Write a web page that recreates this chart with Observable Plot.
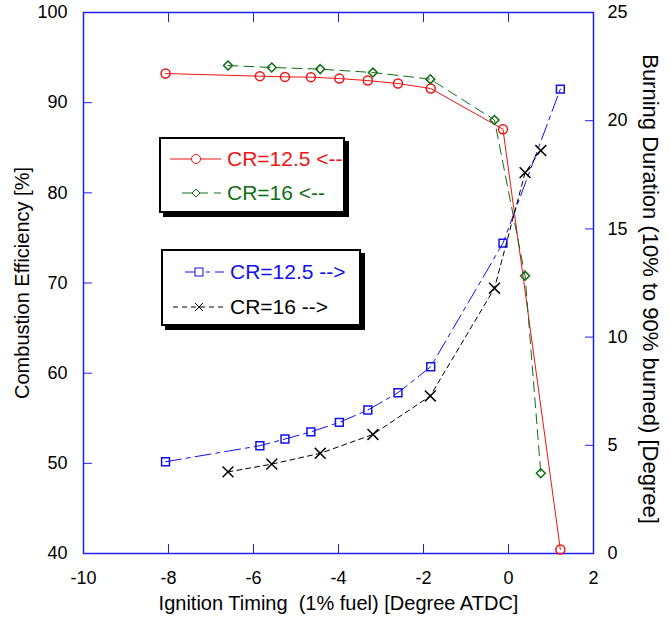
<!DOCTYPE html>
<html>
<head>
<meta charset="utf-8">
<script src="https://cdn.jsdelivr.net/npm/d3@7"></script>
<script src="https://cdn.jsdelivr.net/npm/@observablehq/plot@0.6"></script>
<style>
  html, body { margin: 0; padding: 0; background: #fff; }
  #wrap { position: relative; width: 670px; height: 621px; font-family: "Liberation Sans", Arial, sans-serif; }
  .lg { position: absolute; border: 2px solid #000; box-shadow: 4px 4px 0 #000; background: #fff; box-sizing: border-box; }
  .row { position: absolute; left: 0; height: 30px; display: flex; align-items: center; font-size: 21px; white-space: nowrap; }
  .row svg { display: block; }
</style>
</head>
<body>
<div id="wrap"></div>
<script>
// ---- data ----
const xCR125 = [-8.07, -5.85, -5.26, -4.65, -3.98, -3.31, -2.6, -1.83, -0.13, 1.22];
const effCR125 = [93.23, 92.94, 92.86, 92.83, 92.67, 92.45, 92.12, 91.57, 87.06, 40.44];
const durCR125 = [4.24, 4.98, 5.29, 5.62, 6.06, 6.63, 7.43, 8.63, 14.34, 21.46];
const xCR16 = [-6.6, -5.57, -4.43, -3.19, -1.84, -0.33, 0.39, 0.76];
const effCR16 = [94.12, 93.9, 93.72, 93.34, 92.61, 88.08, 70.8, 48.9];
const durCR16 = [3.77, 4.13, 4.63, 5.50, 7.28, 12.26, 17.6, 18.62];

const xTicks = [-10, -8, -6, -4, -2, 0, 2];
const yLeftTicks = [40, 50, 60, 70, 80, 90, 100];
const yRightTicks = [0, 5, 10, 15, 20, 25];

const xLabel = "Ignition Timing  (1% fuel) [Degree ATDC]";
const yLeftLabel = "Combustion Efficiency [%]";
const yRightLabel = "Burning Duration (10% to 90% burned) [Degree]";
const legendNames = ["CR=12.5 <--", "CR=16 <--", "CR=12.5 -->", "CR=16 -->"];

// ---- styles ----
const RED = "#f01414", GREEN = "#0f6e14", BLUE = "#1010ee", BLACK = "#000", AXIS = "#2020ee";

// right axis (0..25) mapped onto left axis (40..100)
const r2l = v => 40 + v * 60 / 25;

const s125 = xCR125.map((x, i) => ({x, eff: effCR125[i], dur: r2l(durCR125[i])}));
const s16 = xCR16.map((x, i) => ({x, eff: effCR16[i], dur: r2l(durCR16[i])}));

const chart = Plot.plot({
  width: 670,
  height: 621,
  marginLeft: 83,
  marginRight: 77,
  marginTop: 12,
  marginBottom: 68,
  style: {fontFamily: '"Liberation Sans", Arial, sans-serif', fontSize: "18px", color: "#000", background: "#fff", overflow: "visible"},
  x: {domain: [-10, 2]},
  y: {domain: [40, 100]},
  marks: [
    Plot.axisX({ticks: xTicks, tickSize: -9, tickPadding: 27, stroke: AXIS, fill: "#000", label: null, tickFormat: d => String(d).replace("−", "-")}),
    Plot.axisX({anchor: "top", ticks: xTicks, tickSize: -9, stroke: AXIS, label: null, tickFormat: () => ""}),
    Plot.axisY({ticks: yLeftTicks, tickSize: -9, tickPadding: 25, stroke: AXIS, fill: "#000", label: null}),
    Plot.axisY({anchor: "right", ticks: yRightTicks.map(r2l), tickSize: -9, tickPadding: 23, stroke: AXIS, fill: "#000", label: null,
      tickFormat: d => String(Math.round((d - 40) * 25 / 60))}),
    Plot.frame({stroke: AXIS, strokeWidth: 1.5}),
    Plot.text([xLabel], {frameAnchor: "bottom", textAnchor: "middle", dy: 56, text: d => d, fontSize: 20, fill: "#000"}),
    Plot.text([yLeftLabel], {frameAnchor: "left", textAnchor: "middle", rotate: -90, dx: -61, text: d => d, fontSize: 20, fill: "#000"}),
    Plot.text([yRightLabel], {frameAnchor: "right", textAnchor: "middle", rotate: 90, dx: 57, dy: 6, text: d => d, fontSize: 22, fill: "#000"}),

    // efficiency
    Plot.line(s125, {x: "x", y: "eff", stroke: RED, strokeWidth: 1}),
    Plot.dot(s125, {x: "x", y: "eff", stroke: RED, r: 4.5, symbol: "circle", fill: "none"}),
    Plot.line(s16, {x: "x", y: "eff", stroke: GREEN, strokeWidth: 1, strokeDasharray: "10,6"}),
    Plot.dot(s16, {x: "x", y: "eff", stroke: GREEN, r: 4, symbol: "diamond2", fill: "none"}),
    // burning duration
    Plot.line(s125, {x: "x", y: "dur", stroke: BLUE, strokeWidth: 1, strokeDasharray: "16,5,4,5"}),
    Plot.dot(s125, {x: "x", y: "dur", stroke: BLUE, r: 5, symbol: "square2", fill: "none"}),
    Plot.line(s16, {x: "x", y: "dur", stroke: BLACK, strokeWidth: 1, strokeDasharray: "5,4"}),
    Plot.dot(s16, {x: "x", y: "dur", stroke: BLACK, r: 5, symbol: "times", fill: "none"})
  ]
});

const wrap = document.getElementById("wrap");
wrap.appendChild(chart);

// ---- legends ----
function sym(kind, color) {
  const ns = "http://www.w3.org/2000/svg";
  const svg = document.createElementNS(ns, "svg");
  svg.setAttribute("width", 56); svg.setAttribute("height", 20);
  const dash = {circle: null, diamond: "10,6", square: "16,5,4,5", times: "5,4"}[kind];
  const x1 = {circle: 2, diamond: 14, square: 14, times: 2}[kind];
  const line = document.createElementNS(ns, "line");
  line.setAttribute("x1", x1); line.setAttribute("x2", 53); line.setAttribute("y1", 10); line.setAttribute("y2", 10);
  line.setAttribute("stroke", color); line.setAttribute("stroke-width", 1);
  if (dash) line.setAttribute("stroke-dasharray", dash);
  svg.appendChild(line);
  let m;
  if (kind === "circle") { m = document.createElementNS(ns, "circle"); m.setAttribute("cx", 28); m.setAttribute("cy", 10); m.setAttribute("r", 4.5); m.setAttribute("fill", "#fff"); }
  else if (kind === "diamond") { m = document.createElementNS(ns, "path"); m.setAttribute("d", "M28,6L32,10L28,14L24,10Z"); m.setAttribute("fill", "#fff"); }
  else if (kind === "square") { m = document.createElementNS(ns, "rect"); m.setAttribute("x", 24); m.setAttribute("y", 6); m.setAttribute("width", 8); m.setAttribute("height", 8); m.setAttribute("fill", "#fff"); }
  else { m = document.createElementNS(ns, "path"); m.setAttribute("d", "M24,6L32,14M32,6L24,14"); m.setAttribute("fill", "none"); }
  m.setAttribute("stroke", color); m.setAttribute("stroke-width", 1);
  svg.appendChild(m);
  return svg;
}
function legend(left, top, w, h, rows) {
  const box = document.createElement("div");
  box.className = "lg";
  Object.assign(box.style, {left: left + "px", top: top + "px", width: w + "px", height: h + "px"});
  rows.forEach((r, i) => {
    const row = document.createElement("div");
    row.className = "row";
    row.style.top = r.top + "px";
    row.style.left = r.left + "px";
    row.style.color = r.color;
    row.appendChild(sym(r.kind, r.color));
    const t = document.createElement("span");
    t.textContent = r.name;
    t.style.marginLeft = "3px";
    row.appendChild(t);
    box.appendChild(row);
  });
  wrap.appendChild(box);
}
legend(159, 137, 186, 76, [
  {name: legendNames[0], color: RED, kind: "circle", top: 5, left: 7},
  {name: legendNames[1], color: GREEN, kind: "diamond", top: 39, left: 7}
]);
legend(161, 249, 200, 77, [
  {name: legendNames[2], color: BLUE, kind: "square", top: 6, left: 8},
  {name: legendNames[3], color: BLACK, kind: "times", top: 41, left: 8}
]);
</script>
</body>
</html>
